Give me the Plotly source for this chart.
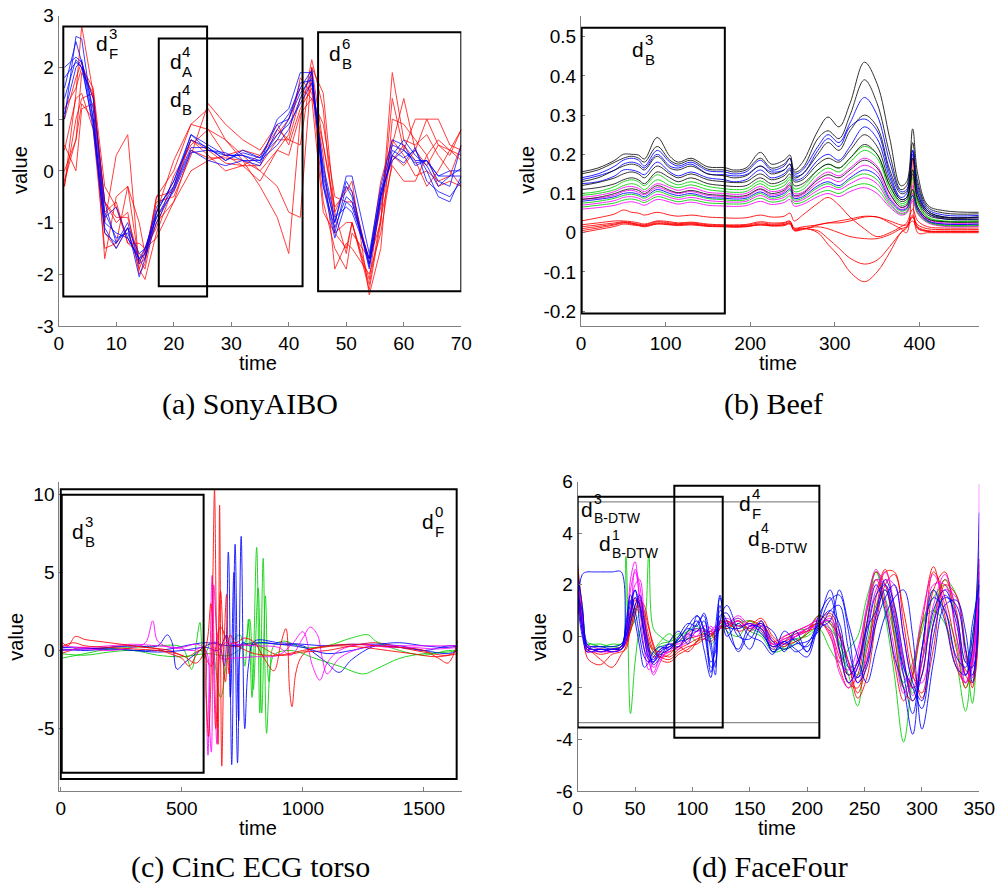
import plotly.graph_objects as go

W, H = 997, 888
def px(v): return v / W
def py(v): return 1 - v / H

# ---------------- (a) SonyAIBO ----------------
sony_time = [1,3,4,6,8,10,12,14,15,17,20,23,26,29,32,35,38,40,42,44,46,48,50,51,54,56,58,60,62,64,66,68,70]
sony_blue = [
 [1.0, 2.6, 2.55, 1.0, -0.9, -0.7, -1.3, -1.7, -1.5, -0.8, -0.2, 0.7, 0.5, 0.3, 0.3, 0.15, 1.0, 1.2, 1.9, 1.9, 0.0, -1.0, -0.1, -0.1, -1.6, -0.3, 0.6, 0.5, 0.1, 0.2, -0.2, -0.3, 0.5],
 [1.8, 2.1, 2.0, 1.4, -0.6, -1.4, -1.0, -1.75, -1.6, -0.9, -0.3, 0.45, 0.45, 0.2, 0.35, 0.25, 0.6, 1.0, 1.5, 1.8, -0.3, -1.1, -0.5, -0.6, -1.8, -0.5, 0.3, 0.6, 0.3, 0.1, -0.3, -0.1, -0.1],
 [1.6, 2.5, 2.1, 0.8, -1.1, -1.5, -1.1, -2.05, -1.7, -1.0, -0.35, 0.4, 0.2, 0.1, 0.2, 0.1, 0.8, 1.1, 1.6, 1.95, -0.2, -1.2, -0.3, -0.5, -1.9, -0.6, 0.4, 0.25, 0.4, 0.0, -0.5, -0.6, -0.1],
 [1.1, 2.0, 2.15, 1.0, -1.0, -1.2, -1.3, -1.7, -1.6, -0.7, -0.3, 0.7, 0.4, 0.35, 0.2, 0.2, 0.7, 0.9, 1.3, 1.7, 0.1, -0.9, -0.7, -0.8, -1.7, -0.4, 0.2, 0.4, 0.2, 0.2, -0.1, 0.0, 0.0],
 [2.0, 2.2, 2.1, 1.2, -0.8, -1.3, -1.2, -1.8, -1.7, -0.8, -0.2, 0.6, 0.45, 0.2, 0.4, 0.25, 0.9, 1.0, 1.7, 1.75, -0.1, -1.0, -0.2, -0.4, -1.85, -0.4, 0.5, 0.4, 0.15, 0.2, -0.1, -0.1, 0.05],
 [1.4, 2.15, 2.0, 0.9, -1.2, -1.4, -1.1, -1.6, -1.5, -0.9, -0.4, 0.35, 0.4, 0.3, 0.3, 0.2, 0.5, 0.8, 1.4, 1.9, -0.3, -1.3, -0.6, -0.7, -1.7, -0.5, 0.3, 0.15, 0.45, -0.2, -0.4, -0.5, -0.2],
]
sony_red = [
 [-0.3, 1.5, 2.8, 1.5, -0.6, -1.0, -0.8, -2.0, -1.8, -0.5, 0.0, 0.9, 1.2, 0.6, 0.3, 0.0, -0.3, -0.8, -0.9, 2.0, 1.5, -0.8, -1.6, -1.0, -2.3, -1.0, 1.9, 0.6, 0.5, 0.7, 0.3, 0.0, -0.3],
 [0.4, 1.4, 1.5, 0.8, -1.5, -1.4, -0.3, -1.8, -1.5, -1.1, -0.1, 0.5, 0.8, 0.6, 0.2, -0.3, -0.9, -1.6, 1.0, 2.15, 1.2, -1.2, -1.5, -1.0, -2.1, -0.5, 0.5, 1.4, 0.4, 1.0, 1.0, 0.5, 0.4],
 [-0.2, 0.6, 1.9, 1.5, -1.0, 0.3, 0.7, -1.9, -2.1, -1.2, -0.3, 0.6, 0.4, 0.15, 0.1, 0.3, 0.8, 0.6, 0.5, 2.0, 0.5, -0.8, -0.3, -0.4, -1.8, -0.7, 0.3, 0.1, 0.4, 0.1, 0.5, 0.4, 0.8],
 [0.5, 0.0, 1.2, 1.3, -1.7, -0.5, -0.3, -1.0, -1.6, -0.6, -0.5, 0.3, 1.3, 0.9, 0.6, 0.4, 0.9, 0.5, 1.2, 1.6, 0.3, -1.9, -1.4, -1.5, -2.0, -1.2, 0.2, 0.5, 0.2, -0.3, 0.0, 0.4, 0.3],
 [1.2, 1.6, 2.0, 1.6, -0.3, -0.7, -1.4, -1.4, -1.5, -1.3, -0.6, 0.0, 0.2, 0.3, 0.1, -0.2, 0.4, 0.7, 1.8, 1.5, 0.5, -0.7, -0.4, -0.2, -2.4, -1.5, 1.0, 0.9, 0.6, 0.3, 0.6, 0.4, 0.2],
 [-0.3, 1.0, 1.4, 1.5, -0.8, -0.6, -1.4, -1.6, -1.7, -0.5, -0.4, 0.6, 0.3, 0.0, 0.1, 0.1, 0.6, 0.6, 1.4, 1.7, -0.6, -1.5, -1.9, -1.2, -1.7, -0.2, 0.6, 0.3, -0.1, 0.0, -0.2, -0.1, 0.5],
 [0.0, 0.6, 1.3, 1.0, -1.2, -1.5, -1.1, -1.9, -1.6, -1.0, -0.6, 0.4, 0.25, 0.25, 0.2, 0.0, 0.4, 0.3, 1.1, 1.4, -0.8, -1.2, -1.0, -1.0, -2.2, -0.9, 0.1, -0.2, -0.2, 0.3, -0.3, -0.2, -0.3],
 [1.0, 1.8, 2.1, 1.4, -0.6, -0.9, -0.9, -1.7, -1.9, -0.8, 0.2, 0.9, 0.8, 0.3, 0.4, 0.3, 0.7, 1.0, 1.6, 1.4, 0.9, -0.5, -0.6, -0.6, -1.7, -1.0, 1.4, 0.4, 1.0, 1.0, 0.5, 0.3, 0.8],
]

# ---------------- (b) Beef ----------------
beef_time = [0,20,40,50,60,68,75,90,105,115,130,150,170,180,195,212,225,240,247,252,262,280,292,305,318,335,350,365,378,385,392,398,410,430,470]
beef_black = [
 [0.155,0.165,0.185,0.20,0.20,0.198,0.188,0.243,0.195,0.18,0.19,0.168,0.166,0.16,0.165,0.205,0.175,0.185,0.198,0.16,0.18,0.26,0.295,0.27,0.33,0.435,0.38,0.24,0.12,0.13,0.265,0.15,0.07,0.056,0.052],
 [0.15,0.16,0.18,0.19,0.195,0.19,0.18,0.22,0.185,0.175,0.185,0.162,0.16,0.155,0.16,0.19,0.165,0.175,0.19,0.155,0.165,0.24,0.26,0.24,0.3,0.39,0.33,0.2,0.11,0.12,0.23,0.13,0.065,0.05,0.048],
 [0.13,0.14,0.16,0.17,0.175,0.17,0.16,0.195,0.165,0.16,0.17,0.15,0.145,0.14,0.145,0.17,0.15,0.16,0.175,0.14,0.15,0.2,0.23,0.21,0.26,0.3,0.27,0.16,0.1,0.105,0.19,0.11,0.055,0.04,0.04],
 [0.12,0.128,0.14,0.15,0.155,0.15,0.14,0.17,0.15,0.14,0.15,0.135,0.13,0.128,0.13,0.15,0.135,0.145,0.16,0.13,0.135,0.175,0.19,0.18,0.21,0.25,0.22,0.13,0.085,0.09,0.16,0.09,0.05,0.038,0.038],
 [0.11,0.115,0.125,0.135,0.14,0.135,0.125,0.155,0.14,0.13,0.14,0.125,0.12,0.118,0.12,0.14,0.125,0.135,0.15,0.12,0.125,0.16,0.175,0.165,0.19,0.225,0.2,0.12,0.08,0.085,0.15,0.085,0.045,0.035,0.033],
 [0.085,0.09,0.1,0.108,0.112,0.108,0.1,0.12,0.108,0.102,0.108,0.098,0.095,0.093,0.095,0.112,0.1,0.108,0.122,0.095,0.1,0.135,0.148,0.14,0.16,0.185,0.165,0.1,0.065,0.07,0.11,0.065,0.035,0.028,0.027],
]
beef_blue = [
 [0.14,0.15,0.17,0.185,0.19,0.185,0.17,0.21,0.18,0.17,0.18,0.158,0.155,0.15,0.155,0.185,0.16,0.17,0.19,0.15,0.16,0.22,0.25,0.23,0.28,0.345,0.30,0.18,0.105,0.11,0.21,0.12,0.06,0.045,0.044],
 [0.135,0.145,0.16,0.175,0.18,0.175,0.165,0.2,0.17,0.165,0.175,0.15,0.148,0.145,0.148,0.17,0.155,0.16,0.175,0.145,0.15,0.21,0.24,0.22,0.27,0.29,0.26,0.15,0.09,0.1,0.21,0.1,0.055,0.04,0.04],
 [0.125,0.13,0.145,0.16,0.16,0.155,0.148,0.18,0.155,0.145,0.155,0.14,0.135,0.13,0.135,0.16,0.14,0.15,0.165,0.135,0.14,0.185,0.2,0.185,0.22,0.27,0.24,0.14,0.085,0.09,0.2,0.1,0.05,0.035,0.035],
 [0.08,0.085,0.092,0.1,0.102,0.098,0.092,0.11,0.1,0.095,0.1,0.09,0.088,0.086,0.088,0.104,0.092,0.1,0.112,0.088,0.092,0.12,0.13,0.12,0.14,0.16,0.145,0.085,0.058,0.062,0.095,0.058,0.03,0.022,0.022],
]
beef_green = [
 [0.1,0.105,0.118,0.13,0.135,0.13,0.12,0.148,0.13,0.122,0.13,0.118,0.112,0.11,0.112,0.132,0.118,0.128,0.142,0.112,0.118,0.16,0.175,0.165,0.19,0.22,0.2,0.12,0.075,0.08,0.16,0.08,0.04,0.03,0.03],
 [0.095,0.1,0.11,0.12,0.125,0.12,0.11,0.135,0.12,0.115,0.122,0.11,0.105,0.103,0.105,0.125,0.11,0.12,0.135,0.105,0.11,0.15,0.165,0.155,0.18,0.21,0.19,0.11,0.07,0.075,0.14,0.075,0.038,0.028,0.028],
 [0.075,0.08,0.088,0.095,0.098,0.094,0.088,0.105,0.095,0.09,0.096,0.087,0.084,0.082,0.084,0.1,0.088,0.095,0.108,0.084,0.088,0.115,0.125,0.115,0.135,0.15,0.135,0.08,0.055,0.06,0.11,0.058,0.03,0.02,0.02],
 [0.065,0.07,0.076,0.083,0.086,0.082,0.077,0.092,0.084,0.079,0.084,0.076,0.074,0.073,0.075,0.088,0.078,0.084,0.094,0.075,0.078,0.1,0.108,0.1,0.115,0.125,0.112,0.07,0.048,0.052,0.095,0.05,0.027,0.018,0.018],
]
beef_magenta = [
 [0.09,0.095,0.105,0.115,0.118,0.113,0.105,0.125,0.115,0.108,0.115,0.103,0.1,0.098,0.1,0.118,0.105,0.112,0.128,0.1,0.103,0.14,0.155,0.145,0.165,0.19,0.17,0.1,0.065,0.07,0.12,0.065,0.035,0.025,0.025],
 [0.085,0.088,0.096,0.105,0.108,0.103,0.097,0.115,0.105,0.1,0.105,0.095,0.092,0.09,0.092,0.11,0.096,0.104,0.118,0.092,0.097,0.128,0.14,0.13,0.15,0.172,0.155,0.09,0.06,0.065,0.1,0.06,0.032,0.022,0.022],
 [0.07,0.075,0.082,0.09,0.092,0.088,0.082,0.098,0.09,0.085,0.09,0.082,0.079,0.078,0.08,0.095,0.084,0.09,0.1,0.08,0.084,0.108,0.118,0.11,0.125,0.14,0.125,0.075,0.05,0.055,0.085,0.052,0.028,0.018,0.018],
 [0.06,0.064,0.07,0.076,0.079,0.075,0.07,0.085,0.078,0.073,0.078,0.07,0.068,0.067,0.069,0.08,0.072,0.077,0.085,0.068,0.072,0.092,0.1,0.092,0.105,0.115,0.1,0.065,0.045,0.05,0.08,0.048,0.025,0.016,0.016],
]
beef_red = [
 [0.03,0.038,0.048,0.058,0.052,0.05,0.045,0.052,0.045,0.042,0.045,0.04,0.038,0.037,0.038,0.045,0.04,0.042,0.05,0.03,0.045,0.075,0.09,0.07,0.04,0.01,-0.01,0.0,0.015,0.025,0.06,0.03,0.015,0.012,0.012],
 [0.02,0.025,0.03,0.03,0.028,0.025,0.022,0.03,0.028,0.025,0.027,0.022,0.02,0.02,0.021,0.028,0.025,0.026,0.03,0.012,0.015,0.02,0.025,0.03,0.035,0.042,0.04,0.03,0.02,0.02,0.04,0.02,0.01,0.008,0.008],
 [0.015,0.02,0.025,0.028,0.025,0.022,0.02,0.028,0.025,0.023,0.025,0.02,0.019,0.018,0.019,0.025,0.022,0.024,0.028,0.01,0.012,0.0,-0.03,-0.06,-0.1,-0.125,-0.1,-0.05,0.0,0.015,0.045,0.015,0.005,0.004,0.004],
 [0.01,0.016,0.022,0.026,0.024,0.02,0.018,0.025,0.023,0.021,0.023,0.018,0.017,0.016,0.017,0.022,0.02,0.021,0.025,0.008,0.01,0.005,-0.015,-0.04,-0.065,-0.08,-0.07,-0.035,0.0,0.012,0.04,0.012,0.004,0.003,0.003],
 [0.005,0.012,0.02,0.025,0.022,0.019,0.017,0.023,0.021,0.02,0.022,0.017,0.016,0.015,0.016,0.02,0.018,0.02,0.024,0.006,0.01,0.015,0.01,0.0,-0.01,-0.015,-0.015,-0.005,0.01,0.015,0.03,0.01,0.003,0.002,0.002],
 [0.0,0.008,0.016,0.022,0.02,0.018,0.015,0.022,0.02,0.018,0.02,0.016,0.015,0.014,0.015,0.02,0.017,0.018,0.022,0.005,0.008,0.02,0.025,0.025,0.03,0.04,0.04,0.025,0.01,0.0,0.19,0.0,0.0,0.0,0.0],
]

# ---------------- (c) CinC ECG torso ----------------
cinc_red_1_t = [0,30,60,100,150,200,250,300,350,400,450,500,530,560,590,600,610,620,628,635,642,650,656,665,675,685,695,710,740,800,900,1000,1100,1200,1300,1400,1500,1560,1600,1639]
cinc_red_1_v = [0.6,0.3,0.9,0.7,0.6,0.5,0.4,0.3,0.2,0.1,-0.2,-0.5,-1.0,-0.3,0.2,-2.5,-5.5,-2.0,4.5,10.3,2.0,-6.0,9.3,-7.4,0.5,3.6,-1.5,0.5,0.2,-0.2,-0.3,0.0,0.3,0.4,0.3,0.2,0.0,-0.5,-0.8,0.6]
cinc_red_2_t = [0,50,100,200,300,400,500,560,600,620,640,660,680,700,720,760,800,840,880,910,930,945,955,970,990,1020,1080,1150,1250,1350,1450,1550,1639]
cinc_red_2_v = [0.2,0.5,0.3,0.2,0.1,0.0,-0.3,-0.8,0.3,3.0,-5.0,3.8,-2.0,1.0,0.5,0.8,0.5,-0.5,-1.3,0.5,1.4,-2.5,-3.6,-1.5,-0.5,0.0,0.2,0.3,0.2,0.0,-0.2,-0.4,-0.2]
cinc_red_3_t = [0,40,80,150,250,350,450,520,580,620,660,700,800,900,1000,1100,1200,1300,1400,1500,1600,1639]
cinc_red_3_v = [-0.2,0.0,0.2,0.1,0.3,0.2,0.0,-0.4,0.0,-1.0,1.5,0.3,0.4,-0.3,-0.1,0.0,0.3,0.5,0.2,-0.1,-0.3,0.0]
cinc_mag_1_t = [0,100,200,300,350,380,400,450,500,550,590,600,608,615,625,635,645,660,680,720,800,900,950,1000,1030,1060,1080,1100,1150,1250,1350,1450,1550,1639]
cinc_mag_1_v = [0.0,0.1,0.0,0.2,0.5,1.9,0.6,0.2,0.1,0.0,0.2,-3.0,-6.7,-2.0,4.8,-1.0,-6.0,0.0,0.5,0.4,0.3,0.2,-0.3,0.8,1.5,1.0,-0.5,-1.5,-0.5,0.2,0.3,0.3,0.3,0.3]
cinc_mag_2_t = [0,100,200,300,400,500,560,600,612,622,632,645,660,700,800,900,960,1000,1040,1070,1100,1150,1250,1350,1450,1550,1639]
cinc_mag_2_v = [0.3,0.2,0.3,0.4,0.3,0.2,0.4,0.0,-4.0,-6.5,4.2,1.0,-0.5,-0.5,-0.4,-0.3,0.5,1.2,-1.0,-1.9,-0.8,0.0,0.4,0.2,0.2,0.1,0.2]
cinc_blue_1_t = [0,100,200,300,400,440,460,480,510,550,600,650,675,692,706,720,735,750,780,820,900,1000,1100,1200,1300,1400,1500,1600,1639]
cinc_blue_1_v = [0.0,0.1,0.2,0.3,0.3,1.0,0.5,-1.2,-0.8,-0.3,0.3,0.5,-1.0,6.3,-7.3,6.8,-4.5,0.5,0.3,0.5,0.4,0.2,-0.2,0.0,0.3,0.2,0.0,-0.2,0.0]
cinc_blue_2_t = [0,100,200,300,400,500,600,650,685,700,715,730,745,760,775,800,900,1000,1100,1200,1300,1400,1500,1600,1639]
cinc_blue_2_v = [0.1,0.0,0.1,0.0,-0.1,0.0,0.2,0.0,1.0,-3.0,5.0,-7.2,7.3,-5.0,-1.0,0.6,0.5,0.4,0.3,0.4,0.4,0.5,0.3,0.2,0.3]
cinc_blue_3_t = [0,200,400,600,700,800,900,1000,1050,1100,1150,1200,1300,1400,1500,1600,1639]
cinc_blue_3_v = [0.2,0.1,0.0,0.5,0.3,0.5,0.4,0.3,-0.2,-0.8,-1.4,-0.6,0.3,0.3,0.0,0.3,0.3]
cinc_green_1_t = [0,100,200,300,400,500,540,560,575,590,620,660,700,740,760,775,790,809,822,836,850,865,880,920,1000,1100,1200,1270,1300,1400,1500,1600,1639]
cinc_green_1_v = [-0.5,-0.2,0.1,0.2,0.3,0.2,-1.2,0.5,1.8,-0.5,0.5,-3.0,0.3,1.0,-1.0,2.0,-3.0,6.6,-4.0,5.9,-5.3,-1.0,0.3,0.6,0.2,0.3,0.8,1.0,0.6,0.0,-0.3,0.0,0.0]
cinc_green_2_t = [0,100,200,300,400,500,600,700,760,780,795,815,830,845,860,880,950,1050,1150,1250,1300,1400,1500,1600,1639]
cinc_green_2_v = [-0.2,-0.3,-0.1,0.0,-0.3,-0.4,-0.2,-0.3,0.5,2.0,-2.5,4.0,-4.0,3.5,-2.0,-0.3,0.0,-0.5,-1.0,-1.5,-1.2,-0.5,-0.2,-0.1,0.0]

# ---------------- (d) FaceFour ----------------
face_time = [0,4,8,12,20,30,38,42,46,50,54,58,62,66,72,80,88,96,104,110,116,120,124,130,140,150,160,170,180,190,200,210,220,228,236,244,252,260,268,276,284,292,300,310,320,330,338,344,350]
face_blue = [
 [1.0,2.4,2.5,2.5,2.5,2.5,2.5,0.0,0.9,1.8,1.2,0.0,-0.8,-0.9,-0.5,-0.4,-0.1,0.4,0.8,0.3,-1.0,-0.6,1.6,0.4,0.3,0.5,0.1,-0.4,-0.2,-0.6,-0.3,0.6,1.8,0.2,-1.5,-1.0,0.5,2.0,1.0,-0.8,-2.0,-3.8,-0.5,1.5,1.0,-0.8,-1.2,0.5,2.0],
 [2.0,0.5,-0.4,-0.5,-0.5,-0.5,-0.4,0.5,1.6,1.0,0.0,-0.8,-1.0,-0.8,-0.5,-0.3,-0.4,0.2,0.6,-0.5,-1.6,0.3,1.5,0.2,-0.5,0.4,0.3,-0.6,-0.3,-0.1,-0.6,0.8,1.5,-0.5,-1.8,-1.2,0.3,1.0,2.2,1.2,-0.8,-2.5,-1.5,1.0,1.8,0.5,-1.5,-0.5,4.8],
 [1.5,1.0,-0.3,-0.4,-0.4,-0.4,-0.3,0.2,1.3,1.8,0.5,-0.5,-0.9,-1.0,-0.6,-0.4,-0.2,-0.1,0.5,0.8,-1.2,-1.0,1.0,0.6,-0.6,0.2,0.5,-0.2,-0.5,-0.3,-0.2,0.2,1.0,1.2,-0.5,-1.6,-1.0,0.5,1.5,2.0,0.0,-1.8,-2.5,0.5,1.5,1.2,-0.5,-1.5,1.5],
 [1.8,0.2,-0.5,-0.6,-0.5,-0.6,-0.5,0.0,0.8,1.5,1.2,0.2,-0.6,-1.0,-0.7,-0.5,-0.1,0.3,0.2,0.6,-0.5,-1.5,0.8,0.9,0.0,-0.1,0.6,-0.6,-0.2,-0.5,-0.8,0.3,0.6,1.8,0.5,-0.8,-1.8,-0.5,0.8,1.5,1.8,0.0,-3.6,-1.0,1.2,1.4,0.2,-1.8,1.0],
 [2.4,1.2,-0.4,-0.5,-0.6,-0.5,-0.5,-0.2,0.5,1.2,1.6,0.6,-0.4,-1.1,-0.8,-0.2,0.2,-0.3,0.8,0.2,-1.4,-0.3,1.2,0.0,0.5,0.0,-0.2,-0.7,0.2,-0.2,-0.4,0.4,1.4,1.6,0.2,-1.8,-1.2,0.8,1.8,0.5,-1.5,-3.0,-0.5,1.8,0.6,-1.2,-1.5,0.0,2.2],
 [1.2,0.0,-0.6,-0.4,-0.4,-0.5,-0.4,0.4,1.4,0.6,-0.4,-1.2,-1.0,-0.6,-0.4,-0.5,0.0,0.5,0.4,0.9,-0.2,-1.2,0.6,1.2,0.2,-0.5,0.4,0.2,-0.6,0.2,-0.6,0.5,1.0,0.5,-1.2,-1.6,0.0,1.6,2.0,0.8,-1.2,-2.0,-2.8,0.0,1.6,0.8,-1.0,-1.2,3.0],
]
face_red = [
 [2.8,1.0,-0.6,-0.6,-0.7,-0.6,-0.5,0.2,1.0,1.5,1.0,0.3,-0.4,-0.8,-0.7,-0.8,-0.5,-0.3,-0.1,0.0,0.2,0.0,0.4,0.3,0.6,0.3,0.6,-0.4,-0.2,0.0,0.3,0.5,0.2,-0.8,-1.5,-1.0,1.0,2.5,2.0,0.0,-2.0,-2.5,-1.0,2.5,1.5,-0.5,-2.0,-1.0,3.0],
 [1.5,0.5,-0.5,-0.6,-0.9,-1.2,-0.7,-0.4,0.6,1.4,1.3,0.6,-0.2,-0.6,-0.8,-0.9,-0.6,-0.4,-0.3,-0.1,0.1,0.2,0.5,0.6,0.4,0.5,0.3,-0.3,-0.1,0.1,0.2,0.4,0.8,-0.5,-1.8,-2.0,-0.5,1.0,2.5,2.5,0.5,-1.5,-2.2,0.5,2.2,1.0,-1.5,-1.8,2.0],
 [2.2,0.8,-0.4,-0.5,-0.5,-0.5,-0.4,-0.2,0.5,1.2,1.5,0.8,0.0,-0.5,-0.6,-0.6,-0.4,-0.1,0.0,0.1,0.0,0.3,0.6,0.5,0.3,0.6,0.4,-0.2,0.0,0.2,0.4,0.6,0.0,-1.2,-2.0,-1.5,0.5,2.2,1.2,-1.0,-2.5,-1.5,0.5,2.7,0.8,-1.2,-1.8,-0.5,2.5],
 [1.8,0.3,-0.5,-0.5,-0.6,-0.5,-0.5,-0.3,0.2,0.8,1.4,1.0,0.3,-0.3,-0.9,-1.0,-0.7,-0.5,-0.2,-0.1,-0.2,0.0,0.3,0.6,0.2,0.4,0.7,0.0,-0.3,-0.2,0.1,0.8,0.5,0.0,-1.0,-2.2,-1.0,1.5,2.6,1.0,-1.0,-2.0,-1.5,1.8,2.5,0.0,-1.3,-1.5,1.5],
 [2.0,0.6,-0.8,-1.0,-1.1,-0.7,-0.6,-0.5,0.3,1.0,1.4,1.2,0.4,-0.4,-0.8,-0.7,-0.4,-0.6,-0.2,0.2,0.1,-0.1,0.3,0.4,0.6,0.2,0.5,-0.1,-0.4,0.0,0.2,0.6,0.9,0.2,-1.0,-2.4,-1.6,0.5,2.0,2.4,1.0,-1.0,-2.4,-0.5,2.0,1.6,-0.5,-2.0,2.8],
]
face_green = [
 [2.0,0.5,-0.4,-0.4,-0.4,-0.4,-0.4,3.1,-3.0,-1.0,0.2,0.5,3.2,0.3,0.0,-0.2,0.0,0.2,0.3,0.3,-0.1,0.2,0.5,0.2,0.0,0.6,0.3,-0.3,-0.5,-0.3,0.2,0.8,0.5,-0.5,-1.5,-2.7,0.5,2.5,1.5,0.0,-2.0,-1.5,0.5,1.0,0.5,-1.0,-2.9,-0.5,3.3],
 [1.2,0.8,-0.3,-0.3,-0.4,-0.3,-0.3,-0.1,0.2,1.0,1.2,0.3,-0.5,-0.7,-0.3,-0.2,0.1,-0.1,0.2,0.3,-0.3,-0.1,0.4,0.3,0.5,0.6,0.2,-0.5,-0.4,-0.1,0.0,0.3,-0.5,-1.0,-0.5,0.0,1.5,2.5,0.8,-1.5,-4.1,-1.5,0.5,1.5,2.0,0.8,-1.0,0.0,2.8],
 [2.5,1.2,-0.2,-0.3,-0.3,-0.4,-0.3,0.0,0.3,0.6,0.8,0.2,-0.3,-0.5,-0.2,0.1,-0.2,0.1,-0.2,0.1,0.0,0.2,0.3,0.5,0.4,0.3,0.1,-0.4,-0.2,0.2,0.3,0.5,0.3,-0.3,-1.0,-1.5,-0.3,1.2,1.8,0.5,-1.8,-1.0,0.2,1.8,1.0,-0.3,-2.0,-1.0,1.5],
 [1.5,0.3,-0.5,-0.5,-0.5,-0.5,-0.4,0.0,0.6,1.1,0.9,0.1,-0.6,-0.6,-0.4,-0.3,-0.2,0.2,0.4,0.1,0.2,0.0,0.3,0.4,0.7,0.2,0.0,-0.6,-0.5,-0.2,0.1,0.4,0.6,-0.2,-1.2,-1.0,1.0,2.2,2.0,0.2,-1.2,-2.2,-1.0,0.8,2.2,1.6,-0.4,-2.6,2.0],
]
face_magenta = [
 [1.6,0.4,-0.5,-0.5,-0.6,-0.5,-0.4,0.0,2.2,2.9,1.2,-0.5,-1.3,-1.0,-0.6,-0.3,-0.3,0.0,0.2,0.3,0.1,0.3,0.5,0.7,0.4,0.5,0.3,-0.3,-0.2,0.1,0.3,0.7,0.3,-1.0,-1.3,-0.5,1.0,2.2,2.0,0.5,-1.5,-2.0,-0.5,2.0,2.0,0.0,-1.5,-1.0,5.9],
 [2.0,0.6,-0.4,-0.4,-0.5,-0.5,-0.4,0.2,1.8,2.5,1.6,0.0,-1.0,-1.4,-0.8,-0.6,-0.2,0.1,0.0,0.4,0.3,0.1,0.4,0.4,0.6,0.3,0.5,-0.4,-0.1,0.0,0.2,0.5,0.6,-0.6,-1.8,-1.2,0.3,1.8,2.5,1.2,-1.0,-2.3,-1.0,1.2,2.4,0.8,-1.8,-1.2,2.5],
 [1.4,0.2,-0.6,-0.6,-0.6,-0.6,-0.5,-0.2,1.0,2.0,2.2,0.8,-0.6,-1.2,-0.9,-0.5,-0.4,-0.2,0.2,0.2,0.2,0.4,0.3,0.5,0.7,0.4,0.4,-0.2,-0.3,0.0,0.3,0.4,0.7,0.0,-1.0,-1.8,-0.8,0.8,2.2,2.0,0.0,-1.6,-1.8,0.5,1.8,1.5,-0.8,-1.6,2.0],
 [2.2,0.9,-0.3,-0.5,-0.5,-0.6,-0.5,-0.1,0.8,2.6,2.0,0.4,-0.8,-1.5,-1.0,-0.4,-0.5,0.1,0.3,0.0,0.4,0.2,0.6,0.5,0.8,0.4,0.2,-0.5,0.0,0.2,0.4,0.6,0.1,-1.4,-2.0,-0.8,1.2,2.6,1.4,-0.5,-2.2,-1.2,0.8,2.4,1.2,-1.0,-1.8,-0.8,2.2],
]

RED, BLUE, GREEN, MAG, BLACK = '#ff0000', '#0000ff', '#00d000', '#ff00ff', '#000000'

fig = go.Figure()

def add(x, y, color, xa, ya, shape='linear', op=0.85):
    assert len(x) == len(y), (len(x), len(y))
    fig.add_trace(go.Scatter(x=x, y=y, mode='lines', xaxis=xa, yaxis=ya, opacity=op,
                             line=dict(color=color, width=1, shape=shape), hoverinfo='skip'))

for s in sony_red: add(sony_time, s, RED, 'x', 'y', op=0.75)
for s in sony_blue: add(sony_time, s, BLUE, 'x', 'y', op=0.75)

for s in beef_red: add(beef_time, s, RED, 'x2', 'y2', 'spline')
for s in beef_magenta: add(beef_time, s, MAG, 'x2', 'y2', 'spline')
for s in beef_green: add(beef_time, s, GREEN, 'x2', 'y2', 'spline')
for s in beef_blue: add(beef_time, s, BLUE, 'x2', 'y2', 'spline')
for s in beef_black: add(beef_time, s, BLACK, 'x2', 'y2', 'spline', op=0.8)

for t, v, c in [(cinc_blue_3_t, cinc_blue_3_v, BLUE), (cinc_red_3_t, cinc_red_3_v, RED),
                (cinc_green_2_t, cinc_green_2_v, GREEN), (cinc_green_1_t, cinc_green_1_v, GREEN),
                (cinc_blue_1_t, cinc_blue_1_v, BLUE), (cinc_blue_2_t, cinc_blue_2_v, BLUE),
                (cinc_mag_1_t, cinc_mag_1_v, MAG), (cinc_mag_2_t, cinc_mag_2_v, MAG),
                (cinc_red_2_t, cinc_red_2_v, RED), (cinc_red_1_t, cinc_red_1_v, RED)]:
    add(t, v, c, 'x3', 'y3', 'spline')

for s in face_green: add(face_time, s, GREEN, 'x4', 'y4', 'spline')
for s in face_red: add(face_time, s, RED, 'x4', 'y4', 'spline')
for s in face_magenta: add(face_time, s, MAG, 'x4', 'y4', 'spline')
for s in face_blue: add(face_time, s, BLUE, 'x4', 'y4', 'spline')

AX = '#808080'
TF = dict(family='Liberation Sans, Arial, sans-serif', size=19, color='black')

def xaxis(x0, x1, rng, tv, anchor):
    return dict(domain=[px(x0), px(x1)], range=rng, anchor=anchor, showline=True, linecolor=AX,
                linewidth=1, ticks='inside', ticklen=4, tickcolor=AX, tickvals=tv,
                ticktext=[str(v) for v in tv], tickfont=TF, showgrid=False, zeroline=False,
                automargin=False)

def yaxis(y0, y1, rng, tv, tt, anchor):
    return dict(domain=[py(y1), py(y0)], range=rng, anchor=anchor, showline=True, linecolor=AX,
                linewidth=1, ticks='inside', ticklen=4, tickcolor=AX, tickvals=tv, ticktext=tt,
                tickfont=TF, showgrid=False, zeroline=False, automargin=False)

sony_y = [-3, -2, -1, 0, 1, 2, 3]
beef_y = [-0.2, -0.1, 0, 0.1, 0.2, 0.3, 0.4, 0.5]
cinc_y = [-5, 0, 5, 10]
face_y = [-6, -4, -2, 0, 2, 4, 6]

fig.update_layout(
    width=W, height=H, margin=dict(l=0, r=0, t=0, b=0, autoexpand=False),
    paper_bgcolor='white', plot_bgcolor='white', showlegend=False,
    xaxis=xaxis(58.7, 461.3, [0, 70], list(range(0, 71, 10)), 'y'),
    yaxis=yaxis(15.7, 326, [-3, 3], sony_y, [str(v) for v in sony_y], 'x'),
    xaxis2=xaxis(581, 979.3, [0, 470.8], [0, 100, 200, 300, 400], 'y2'),
    yaxis2=yaxis(15.7, 326, [-0.238, 0.5536], beef_y, ['%g' % v for v in beef_y], 'x2'),
    xaxis3=xaxis(59.3, 462, [-6, 1657], [0, 500, 1000, 1500], 'y3'),
    yaxis3=yaxis(481.7, 790.7, [-8.97, 10.8], cinc_y, [str(v) for v in cinc_y], 'x3'),
    xaxis4=xaxis(577.7, 979.3, [0, 350], list(range(0, 351, 50)), 'y4'),
    yaxis4=yaxis(481.7, 791, [-6, 6], face_y, [str(v) for v in face_y], 'x4'),
)

# boxes
def box(xa, ya, x0, x1, y0, y1, color='black', w=2):
    fig.add_shape(type='rect', xref=xa, yref=ya, x0=x0, x1=x1, y0=y0, y1=y1,
                  line=dict(color=color, width=w), fillcolor='rgba(0,0,0,0)')

def hline(xa, ya, x0, x1, y):
    fig.add_shape(type='line', xref=xa, yref=ya, x0=x0, x1=x1, y0=y, y1=y,
                  line=dict(color='#8c8c8c', width=1.2))

box('x', 'y', 0.8, 25.8, -2.43, 2.79)
box('x', 'y', 17.4, 42.4, -2.23, 2.56)
box('x', 'y', 45.1, 70, -2.33, 2.68)
box('x2', 'y2', 0.8, 170, -0.206, 0.523)
box('x3', 'y3', 0, 1635, -8.22, 10.32)
box('x3', 'y3', 4, 590, -7.82, 9.96)
hline('x4', 'y4', 0, 210.6, 5.22)
hline('x4', 'y4', 0, 210.6, -3.35)
box('x4', 'y4', 0, 126.4, -3.54, 5.42)
box('x4', 'y4', 84.2, 210.6, -3.93, 5.845)

LF = 'Liberation Sans, Arial, sans-serif'
def text(x, y, s, size, font=LF, xanchor='center', angle=0):
    fig.add_annotation(x=px(x), y=py(y), xref='paper', yref='paper', text=s, showarrow=False,
                       xanchor=xanchor, yanchor='middle', textangle=angle, borderpad=0,
                       font=dict(family=font, size=size, color='black'))

def dlabel(cx, cy, sup, sub, dsup=10, dsub=10, ss=15):
    text(cx, cy, 'd', 21)
    text(cx + 5.5, cy - dsup, sup, ss, xanchor='left')
    text(cx + 5.5, cy + dsub, sub, ss, xanchor='left')

dlabel(102, 43, '3', 'F')
dlabel(175.7, 61.7, '4', 'A')
dlabel(175.7, 99.3, '4', 'B')
dlabel(335, 53.3, '6', 'B')
dlabel(638.3, 50, '3', 'B')
dlabel(78.3, 531.7, '3', 'B')
dlabel(428.3, 521.7, '0', 'F')
dlabel(587.3, 509.3, '3', 'B-DTW', dsub=9, ss=14)
dlabel(605, 543, '1', 'B-DTW', dsup=8, ss=14)
dlabel(745, 503.3, '4', 'F')
dlabel(754, 538.3, '4', 'B-DTW', ss=14)

for (x, y) in [(258, 362.7), (777.7, 362.7), (258.3, 828.3), (776.7, 828.3)]:
    text(x, y, 'time', 20)
for (x, y) in [(20, 170), (526.7, 170), (16, 636.7), (538.3, 636.7)]:
    text(x, y, 'value', 20, angle=-90)

SF = 'Liberation Serif, Times New Roman, serif'
text(250, 404, '(a) SonyAIBO', 30, font=SF)
text(773, 404, '(b) Beef', 30, font=SF)
text(251, 867, '(c) CinC ECG torso', 30, font=SF)
text(770, 867, '(d) FaceFour', 30, font=SF)

fig.write_html('out.html', config={'displayModeBar': False},
               post_script="document.body.style.margin='0px';document.body.style.padding='0px';"
                           "document.body.style.overflow='hidden';")
